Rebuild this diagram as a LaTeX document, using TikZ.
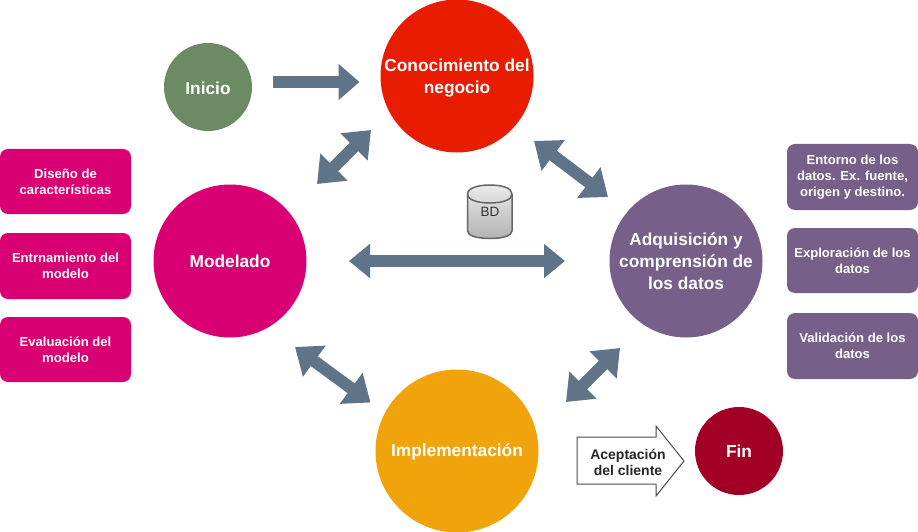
\documentclass[tikz,border=0pt]{standalone}
\usepackage{fontspec}
\setmainfont{Liberation Sans}
\usetikzlibrary{arrows.meta}
\definecolor{cGreen}{HTML}{6C8A63}
\definecolor{cRed}{HTML}{E81C00}
\definecolor{cPink}{HTML}{D80073}
\definecolor{cPurple}{HTML}{76608A}
\definecolor{cOrange}{HTML}{F0A30A}
\definecolor{cFin}{HTML}{A20025}
\definecolor{cArrow}{HTML}{5F7489}
\tikzset{
  x=1pt,y=-1pt,
  stage/.style={circle,inner sep=0pt,text=white,align=center,font=\bfseries\fontsize{17.3}{22}\selectfont},
  stagetext/.style={inner sep=0pt,text=white,align=center,font=\bfseries\fontsize{17.3}{22}\selectfont},
  card/.style={draw=none,rounded corners=8pt,minimum width=131pt,inner sep=0pt,text=white,align=center,font=\bfseries\fontsize{13.1}{16}\selectfont},
  flow/.style={draw=cArrow,line width=11.5pt,-{Triangle[length=21pt,width=35pt]}},
  flowboth/.style={draw=cArrow,line width=12pt,{Triangle[length=24pt,width=37pt]}-{Triangle[length=24pt,width=37pt]}},
  flowlong/.style={draw=cArrow,line width=11.5pt,{Triangle[length=21pt,width=33pt]}-{Triangle[length=21pt,width=33pt]}},
}
\begin{document}
\begin{tikzpicture}
\useasboundingbox (0,0) rectangle (918,532);
\fill[white] (0,0) rectangle (918,532);
% stages
\node[stage,fill=cGreen,minimum size=88pt] (ini) at (208,87) {};
\node[stagetext] (iniT) at (208,88) {Inicio};
\node[stage,fill=cRed,minimum size=153pt] (con) at (457,76) {};
\node[stagetext] (conT) at (457,78) {Conocimiento del\\negocio};
\node[stage,fill=cPink,minimum size=153pt] (mod) at (230,261) {Modelado};
\node[stage,fill=cPurple,minimum size=153pt] (adq) at (686,261) {Adquisición y\\comprensión de\\los datos};
\node[stage,fill=cOrange,minimum size=163pt] (imp) at (457,451) {};
\node[stagetext] (impT) at (457,452) {Implementación};
\node[stage,fill=cFin,minimum size=88pt] (fin) at (739,451) {Fin};
% cards
\node[card,fill=cPink,minimum height=65pt] (c1) at (65.5,181.5) {Diseño de\\características};
\node[card,fill=cPink,minimum height=66pt] (c2) at (65.5,266) {Entrnamiento del\\modelo};
\node[card,fill=cPink,minimum height=65pt] (c3) at (65.5,349.5) {Evaluación del\\modelo};
\node[card,fill=cPurple,minimum height=66pt] (d1) at (852.5,177) {Entorno de los\\datos. Ex. fuente,\\origen y destino.};
\node[card,fill=cPurple,minimum height=65pt] (d2) at (852.5,260.5) {Exploración de los\\datos};
\node[card,fill=cPurple,minimum height=66pt] (d3) at (852.5,346) {Validación de los\\datos};
% connector ends
\coordinate (a1) at (273,82); \coordinate (a2) at (359.5,82);
\coordinate (b1) at (371,130); \coordinate (b2) at (317,184);
\coordinate (e1) at (534,141); \coordinate (e2) at (608,197);
\coordinate (f1) at (349,261); \coordinate (f2) at (565,261);
\coordinate (g1) at (295,347); \coordinate (g2) at (370.5,402.5);
\coordinate (h1) at (620,348); \coordinate (h2) at (566,402);
\draw[flow] (a1) -- (a2);
\draw[flowboth] (b1) -- (b2);
\draw[flowboth] (e1) -- (e2);
\draw[flowlong] (f1) -- (f2);
\draw[flowboth] (g1) -- (g2);
\draw[flowboth] (h1) -- (h2);
% database
\draw[draw=black!60,line width=1.5pt,top color=black!8,bottom color=black!30,shading angle=0]
  (467.5,194) -- (467.5,231) .. controls (467.5,236) and (478,238.5) .. (490,238.5)
  .. controls (502,238.5) and (512,236) .. (512,231) -- (512,194)
  .. controls (512,188) and (502,185) .. (490,185) .. controls (478,185) and (467.5,188) .. (467.5,194) -- cycle;
\draw[draw=black!60,line width=1.5pt] (467.5,194) .. controls (467.5,200) and (478,203) .. (490,203) .. controls (502,203) and (512,200) .. (512,194);
\node[text=black!80,font=\fontsize{13.5}{14}\selectfont,inner sep=0pt] (bd) at (490,212) {BD};
% acceptance arrow
\draw[draw=black!70,fill=white,line width=1pt] (577,437) -- (656,437) -- (656,426) -- (684,461) -- (656,496) -- (656,484) -- (577,484) -- cycle;
\node[text=black!85,align=center,inner sep=0pt,font=\bfseries\fontsize{14}{16}\selectfont] (ac) at (628,462) {Aceptación\\del cliente};
\end{tikzpicture}
\end{document}
